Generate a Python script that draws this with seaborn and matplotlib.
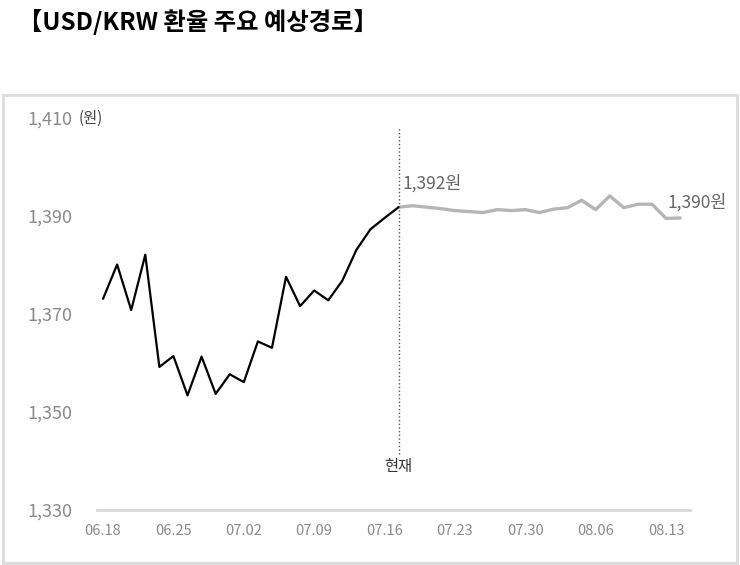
import matplotlib
matplotlib.use("Agg")
from matplotlib import pyplot as plt
from matplotlib.patches import Rectangle
import seaborn as sns
import pandas as pd

# actual USD/KRW (black), up to the current day
actual = [1373.1, 1380.1, 1370.8, 1382.1, 1359.2, 1361.4, 1353.4, 1361.3,
          1353.7, 1357.7, 1356.1, 1364.4, 1363.1, 1377.6, 1371.6, 1374.8,
          1372.8, 1376.8, 1383.1, 1387.3, 1389.6, 1391.8]
# forecast path (grey), starting at the current day
forecast = [1391.8, 1392.1, 1391.8, 1391.5, 1391.1, 1390.9, 1390.7, 1391.3,
            1391.1, 1391.3, 1390.7, 1391.4, 1391.7, 1393.2, 1391.3, 1394.1,
            1391.7, 1392.4, 1392.4, 1389.5, 1389.6]
date_ticks = ["06.18", "06.25", "07.02", "07.09", "07.16",
              "07.23", "07.30", "08.06", "08.13"]
y_ticks = [1330, 1350, 1370, 1390, 1410]

now_idx = len(actual) - 1
df_a = pd.DataFrame({"t": range(len(actual)), "v": actual})
df_f = pd.DataFrame({"t": range(now_idx, now_idx + len(forecast)), "v": forecast})

sns.set_theme(style="white")
plt.rcParams["font.family"] = ["Noto Sans CJK KR", "DejaVu Sans"]

fig = plt.figure(figsize=(7.4, 5.65), dpi=100)
W, H = 740, 565
ax = fig.add_axes([97 / W, 1 - 510 / H, (690 - 97) / W, (510 - 118) / H])

sns.lineplot(data=df_f, x="t", y="v", ax=ax, color="#b5b5b5", lw=2.4)
sns.lineplot(data=df_a, x="t", y="v", ax=ax, color="black", lw=1.6)

ax.set_xlim(-0.43, 41.7)
ax.set_ylim(1330, 1410)
ax.set_xticks(range(0, 5 * len(date_ticks), 5))
ax.set_xticklabels(date_ticks, fontsize=10.5, color="#8a8a8a")
ax.set_yticks(y_ticks)
ax.set_yticklabels([f"{v:,}" for v in y_ticks], fontsize=13, color="#8a8a8a")
ax.tick_params(axis="x", length=0, pad=10)
ax.tick_params(axis="y", length=0, pad=18)
ax.set_xlabel("")
ax.set_ylabel("")
for s in ["left", "top", "right"]:
    ax.spines[s].set_visible(False)
ax.spines["bottom"].set_color("#d9d9d9")
ax.spines["bottom"].set_linewidth(2)

# current-day marker
ax.vlines(now_idx, 1341.5, 1408, colors="#555555", linestyles=":", lw=1)
ax.text(now_idx, 1338.9, "현재", ha="center", va="center", fontsize=11, color="#333333")
ax.text(now_idx + 0.3, 1396.6, f"{actual[-1]:,.0f}원", ha="left", va="center",
        fontsize=12.5, color="#666666")
ax.text(now_idx + len(forecast) - 2 + 0.1, 1392.7, "1,390원", ha="left", va="center",
        fontsize=12.5, color="#666666")
fig.text(79 / W, 1 - 118 / H, "(원)", ha="left", va="center",
         fontsize=11, color="#444444")

fig.text(18 / W, 1 - 22 / H, "【USD/KRW 환율 주요 예상경로】", ha="left", va="center",
         fontsize=17.5, fontweight="bold", color="black")
fig.patches.append(Rectangle((3 / W, 1 - 563 / H), 734 / W, 468 / H,
                             transform=fig.transFigure, fill=False,
                             ec="#dcdcdc", lw=2))

fig.savefig("out.png", dpi=100)
